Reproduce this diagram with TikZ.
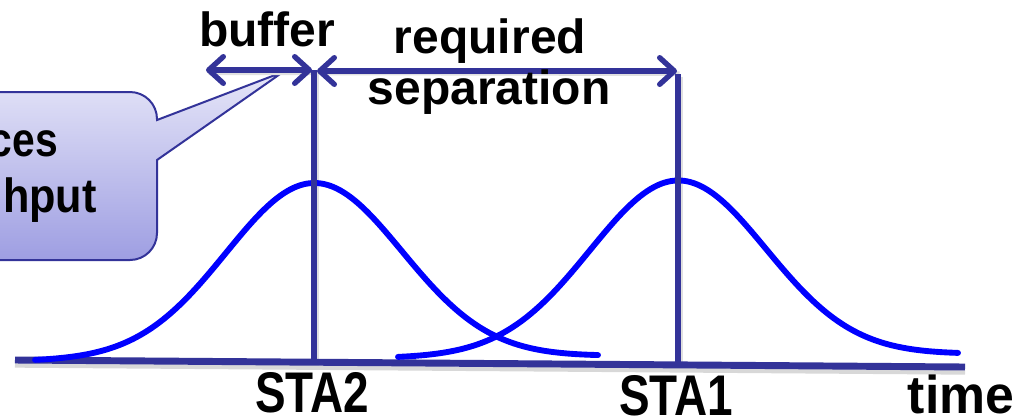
\documentclass[tikz,border=0pt]{standalone}
\usepackage{fontspec}
\setmainfont{Liberation Sans}
\usepackage{graphicx}
\usetikzlibrary{arrows.meta}
\definecolor{dkblue}{RGB}{51,51,153}
\definecolor{pureblue}{RGB}{0,0,255}
\definecolor{calltop}{RGB}{230,230,248}
\definecolor{callbot}{RGB}{158,158,226}
\begin{document}
\begin{tikzpicture}[x=0.75pt,y=-0.75pt,
  lbl/.style={font=\fontsize{36pt}{40pt}\selectfont\bfseries, inner sep=0pt, text=black},
  biglbl/.style={font=\fontsize{43pt}{48pt}\selectfont\bfseries, inner sep=0pt, text=black},
  timelbl/.style={font=\fontsize{40pt}{46pt}\selectfont\bfseries, inner sep=0pt, text=black},
  axisline/.style={draw=dkblue, line width=5.2pt},
  shadowline/.style={draw=black!22, line width=3.5pt, opacity=0.7},
  softshadow/.style={draw=black!12, line width=3.5pt},
  vline/.style={draw=dkblue, line width=4pt},
  dimarrow/.style={draw=dkblue, line width=4pt, {Straight Barb[length=11pt,width=20pt,round]}-{Straight Barb[length=11pt,width=20pt,round]}},
  gauss/.style={draw=pureblue, line width=4.4pt, line cap=round},
  callout/.style={draw=dkblue, line width=1.5pt, top color=calltop, bottom color=callbot}
]
\useasboundingbox (0,0) rectangle (1017,419);
\clip (0,0) rectangle (1017,419);

% callout
\path[callout] (-120,92) -- (130,92) arc[start angle=-90, end angle=0, radius=27]
  -- (157,120) -- (283,72) -- (157,160) -- (157,233)
  arc[start angle=0, end angle=90, radius=27] -- (-120,260) -- cycle;
\node[lbl, anchor=base east] (c1) at (58,156) {\scalebox{0.85}[1]{ces}};
\node[lbl, anchor=base east] (c2) at (97,212) {\scalebox{0.9}[1]{hput}};

% coordinates
\coordinate (axL) at (15,360);
\coordinate (axR) at (965,367);
\coordinate (s2top) at (314,70);
\coordinate (s2bot) at (314,362);
\coordinate (s1top) at (678,74);
\coordinate (s1bot) at (678,365);
\coordinate (bufL) at (206,70);
\coordinate (bufR) at (312,70);
\coordinate (reqL) at (317,71);
\coordinate (reqR) at (677,71);

% shadows
\draw[shadowline] ([yshift=-4pt]axL) -- ([yshift=-4pt]axR);
\draw[softshadow] ([shift={(2pt,-2pt)}]bufL) -- ([shift={(2pt,-2pt)}]reqR);
\draw[softshadow] ([shift={(2pt,-2pt)}]s2top) -- ([shift={(2pt,-2pt)}]s2bot);
\draw[softshadow] ([shift={(2pt,-2pt)}]s1top) -- ([shift={(2pt,-2pt)}]s1bot);

% axis
\draw[axisline] (axL) -- (axR);

% gaussians
\draw[gauss] plot[domain=35:598, samples=120, smooth]
  (\x, {361 - (\x-35)*5/563 - 175.5*exp(-0.5*((\x-314)/88)^2)});
\draw[gauss] plot[domain=398:958, samples=120, smooth]
  (\x, {358 - (\x-398)*4/560 - 175.5*exp(-0.5*((\x-678)/88)^2)});

% vertical lines
\draw[vline] (s2top) -- (s2bot);
\draw[vline] (s1top) -- (s1bot);

% dimension arrows
\draw[dimarrow] (bufL) -- (bufR);
\draw[dimarrow] (reqL) -- (reqR);

% labels
\node[lbl, anchor=base] (buf) at (267,46) {buffer};
\node[lbl, anchor=base] (req) at (490,53) {required};
\node[lbl, anchor=base] (sep) at (489,104) {separation};
\node[biglbl, anchor=base] (sta2) at (312,412) {\scalebox{0.8}[1]{STA2}};
\node[biglbl, anchor=base] (sta1) at (676,415) {\scalebox{0.8}[1]{STA1}};
\node[timelbl, anchor=base] (time) at (961,413) {\scalebox{0.97}[1]{time}};
\end{tikzpicture}
\end{document}
